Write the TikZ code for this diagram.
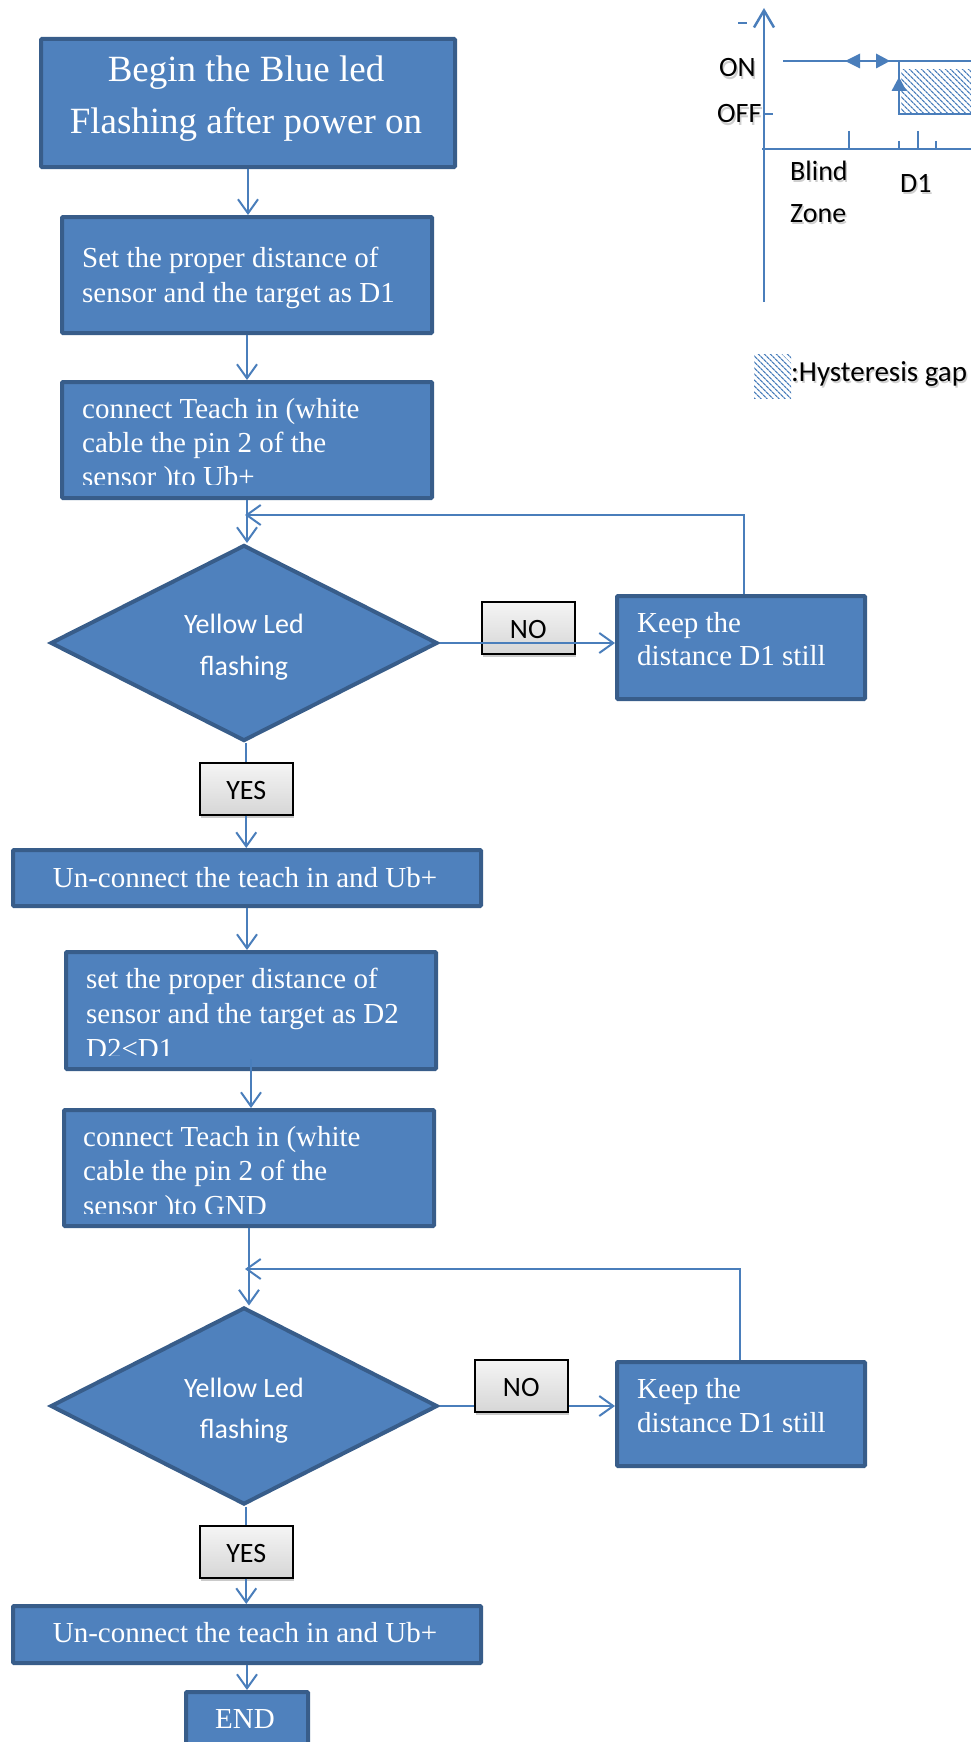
\documentclass[tikz,border=0pt]{standalone}
\usepackage{fontspec}
\setmainfont{Liberation Serif}
\newfontfamily\calfont{Carlito}
\usetikzlibrary{arrows.meta,shapes.geometric,shadows,patterns.meta}
\definecolor{boxfill}{HTML}{4F81BD}
\definecolor{boxedge}{HTML}{385D8A}
\definecolor{linec}{HTML}{4A7EBB}
\tikzset{
 box/.style={draw=boxedge, fill=boxfill, line width=4pt, anchor=north west, inner sep=0pt, rounded corners=1pt},
 dia/.style={diamond, draw=boxedge, fill=boxfill, line width=4pt, inner sep=0pt, minimum width=387pt, minimum height=196pt, shape aspect=2},
 tag/.style={draw=black, line width=1.5pt, anchor=north west, inner sep=0pt, top color=gray!8, bottom color=gray!32, drop shadow={shadow xshift=1pt, shadow yshift=-3pt, opacity=0.35, fill=black!60}, font=\calfont\fontsize{28}{34}\selectfont, text=black, text height=22pt, text depth=0pt},
 conn/.style={draw=linec, line width=2pt},
 arr/.style={conn, -{Straight Barb[length=14pt,width=20pt,line width=2pt]}},
 tl/.style={anchor=base west, inner sep=0pt, text=white, font=\fontsize{29}{35}\selectfont},
 tc/.style={anchor=base, inner sep=0pt, text=white, font=\fontsize{29}{35}\selectfont},
 dt/.style={anchor=base, inner sep=0pt, text=white, font=\calfont\fontsize{28}{34}\selectfont},
 cl/.style={anchor=base west, inner sep=0pt, text=black, font=\calfont\fontsize{28}{33}\selectfont},
 clsh/.style={cl, text=black!35, opacity=0.55},
 chart/.style={draw=linec, line width=2.5pt},
 hatch/.style={pattern={Lines[angle=-45,distance=4pt,line width=1.3pt]}, pattern color=linec},
}
\newcommand\chlabel[4]{\node[clsh] (#1s) at (#2+1.5,#3+2.5) {#4};\node[cl] (#1) at (#2,#3) {#4};}
\begin{document}
\begin{tikzpicture}[x=1pt,y=-1pt]
\useasboundingbox (0,0) rectangle (971,1742);
% ---------- chart ----------
\draw[chart, -{Straight Barb[length=17pt,width=20pt,line width=2.5pt]}] (764,302) -- (764,8);
\draw[chart, line width=2pt] (738,23) -- (747,23);
\draw[chart] (762,149) -- (975,149);
\path[hatch] (901,70) rectangle (975,113);
\draw[chart] (783,61) -- (975,61);
\draw[chart] (899,61) -- (899,114) -- (975,114);
\draw[chart] (764,114) -- (773,114);
\fill[linec] (845,61) -- (860,53.5) -- (860,68.5) -- cycle;
\fill[linec] (890,61) -- (876,53.5) -- (876,68.5) -- cycle;
\fill[linec] (899,77) -- (891.5,91) -- (906.5,91) -- cycle;
\draw[chart] (849,131) -- (849,149);
\draw[chart] (899,141) -- (899,149);
\draw[chart] (918,131) -- (918,149);
\draw[chart] (936,141) -- (936,149);
\chlabel{lon}{719}{77}{ON}
\chlabel{loff}{717}{123}{OFF}
\chlabel{lblind}{790}{180}{Blind}
\chlabel{lzone}{790}{222}{Zone}
\chlabel{ld1}{900}{192}{D1}
\path[hatch] (754,354) rectangle (791,398);
\begin{scope}[cl/.append style={font=\calfont\fontsize{29}{35}\selectfont}]
\chlabel{lhyst}{791}{381}{:Hysteresis gap}
\end{scope}
% ---------- boxes ----------
\node[box, minimum width=414pt, minimum height=128pt] (b1) at (39,37) {};
\node[box, minimum width=370pt, minimum height=116pt] (b2) at (60,215) {};
\node[box, minimum width=370pt, minimum height=116pt] (b3) at (60,380) {};
\node[dia] (d1) at (244,643) {};
\node[box, minimum width=248pt, minimum height=103pt] (k1) at (615,594) {};
\node[tag, minimum width=93pt, minimum height=52pt] (no1) at (481,601) {NO};
\node[tag, minimum width=93pt, minimum height=52pt] (yes1) at (199,762) {YES};
\node[box, minimum width=468pt, minimum height=56pt] (u1) at (11,848) {};
\node[box, minimum width=370pt, minimum height=117pt] (b4) at (64,950) {};
\node[box, minimum width=370pt, minimum height=116pt] (b5) at (62,1108) {};
\node[dia, minimum height=197pt] (d2) at (244,1406) {};
\node[box, minimum width=248pt, minimum height=104pt] (k2) at (615,1360) {};
\node[tag, minimum width=93pt, minimum height=52pt] (yes2) at (199,1525) {YES};
\node[box, minimum width=468pt, minimum height=57pt] (u2) at (11,1604) {};
\node[box, minimum width=122pt, minimum height=72pt] (end) at (184,1690) {};
% ---------- texts ----------
\node[tc, font=\fontsize{37}{44}\selectfont] (t1a) at (246,82) {Begin the Blue led};
\node[tc, font=\fontsize{37}{44}\selectfont] (t1b) at (246,133) {Flashing after power on};
\node[tl] (t2a) at (82,267) {Set the proper distance of};
\node[tl] (t2b) at (82,302) {sensor and the target as D1};
\node[tl] (t3a) at (82,418) {connect Teach in (white};
\node[tl] (t3b) at (82,452) {cable the pin 2 of the};
\begin{scope}
\clip (60,380) rectangle (430,484);
\node[tl] (t3c) at (82,486) {sensor )to Ub+};
\end{scope}
\node[dt] (td1a) at (244,633) {Yellow Led};
\node[dt] (td1b) at (244,675) {flashing};
\node[tl] (tk1a) at (637,632) {Keep the};
\node[tl] (tk1b) at (637,665) {distance D1 still};
\node[tc] (tu1) at (245,887) {Un-connect the teach in and Ub+};
\node[tl] (t4a) at (86,988) {set the proper distance of};
\node[tl] (t4b) at (86,1023) {sensor and the target as D2};
\begin{scope}
\clip (64,950) rectangle (434,1055);
\node[tl] (t4c) at (86,1058) {D2<D1};
\end{scope}
\node[tl] (t5a) at (83,1146) {connect Teach in (white};
\node[tl] (t5b) at (83,1180) {cable the pin 2 of the};
\begin{scope}
\clip (62,1108) rectangle (432,1213);
\node[tl] (t5c) at (83,1215) {sensor )to GND};
\end{scope}
\node[dt] (td2a) at (244,1397) {Yellow Led};
\node[dt] (td2b) at (244,1438) {flashing};
\node[tl] (tk2a) at (637,1398) {Keep the};
\node[tl] (tk2b) at (637,1432) {distance D1 still};
\node[tc] (tu2) at (245,1642) {Un-connect the teach in and Ub+};
\node[tc] (tend) at (245,1728) {END};
% ---------- connectors ----------
\draw[arr] (b1.south) -- (b1.south |- b2.north);
\draw[arr] (b2.south) -- (b2.south |- b3.north);
\draw[arr] (b3.south) -- (b3.south |- d1.north);
\coordinate (m1) at (245,515);
\draw[arr] ([xshift=3pt]k1.north) |- (m1);
\draw[arr] (d1.east) -- (d1.east -| k1.west);
\draw[conn] (yes1.north |- d1.south) -- (yes1.north);
\draw[arr] (yes1.south) -- (yes1.south |- u1.north);
\draw[arr] (u1.south) -- (u1.south |- b4.north);
\draw[arr] ([yshift=12pt]b4.south) -- (b4.south |- b5.north);
\draw[arr] (b5.south) -- (b5.south |- d2.north);
\coordinate (m2) at (245,1269);
\draw[arr] ([xshift=-1pt]k2.north) |- (m2);
\draw[arr] (d2.east) -- (d2.east -| k2.west);
\node[tag, minimum width=93pt, minimum height=52pt] (no2) at (474,1359) {NO};
\draw[conn] (yes2.north |- d2.south) -- (yes2.north);
\draw[arr] (yes2.south) -- (yes2.south |- u2.north);
\draw[arr] (u2.south) -- (u2.south |- end.north);
\end{tikzpicture}
\end{document}
